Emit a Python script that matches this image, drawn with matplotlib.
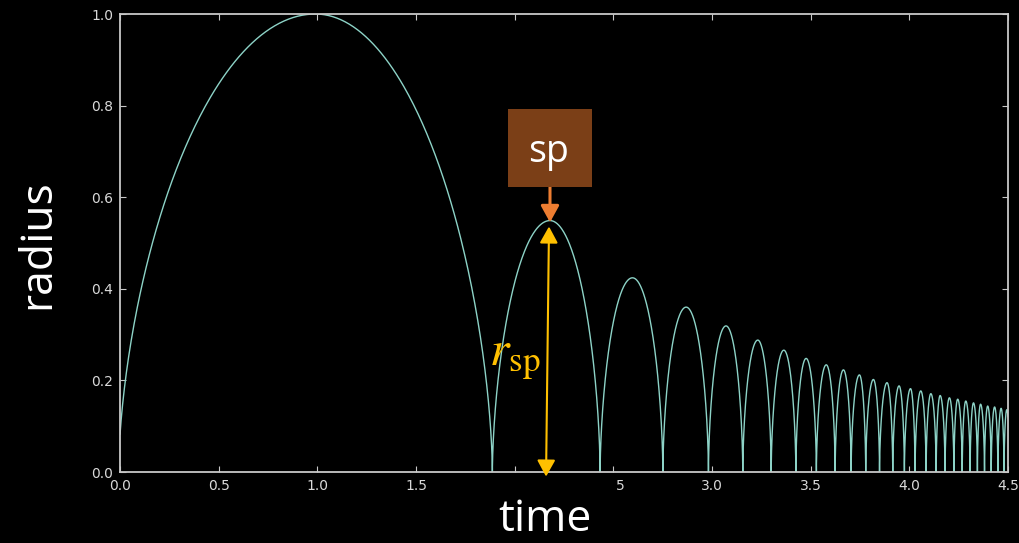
"""
Bubble radius vs time: big first expansion, then a train of decaying rebounds.
"""

import matplotlib

matplotlib.use("Agg")
import matplotlib.pyplot as plt
import numpy as np
from matplotlib.patches import Rectangle
from matplotlib.transforms import ScaledTranslation

# --- values ---
start_r = 0.081  # radius at t = 0
# times where the radius touches zero (collapses)
zero_t = [1.887, 2.433, 2.751, 2.982, 3.156, 3.300, 3.425, 3.529, 3.624, 3.705,
          3.779, 3.849, 3.916, 3.975, 4.029, 4.085, 4.136, 4.181, 4.226, 4.268,
          4.308, 4.345, 4.381, 4.415, 4.449, 4.480]
# time and height of each rebound maximum
peak_t = [0.99, 2.179, 2.597, 2.869, 3.071, 3.232, 3.364, 3.477, 3.579, 3.666,
          3.747, 3.818, 3.887, 3.948, 4.006, 4.058, 4.109, 4.156, 4.203, 4.245,
          4.286, 4.325, 4.361, 4.397, 4.432, 4.465, 4.494]
peak_r = [1.0, 0.549, 0.424, 0.360, 0.319, 0.288, 0.266, 0.248, 0.234, 0.223,
          0.212, 0.202, 0.195, 0.188, 0.182, 0.177, 0.171, 0.167, 0.162, 0.159,
          0.155, 0.151, 0.148, 0.144, 0.142, 0.139, 0.136]

x_ticks = [0.0, 0.5, 1.0, 1.5, 2.0, 2.5, 3.0, 3.5, 4.0, 4.5]
x_tick_labels = ["0.0", "0.5", "1.0", "1.5", "", "5", "3.0", "3.5", "4.0", "4.5"]
y_ticks = [0.0, 0.2, 0.4, 0.6, 0.8, 1.0]
y_tick_labels = ["0.0", "0.2", "0.4", "0.6", "0.8", "1.0"]

T_MAX = 4.5
ARC_EXP = 0.6  # shape of each rebound, cusp at the collapse points

LINE = "#8dd3c7"
SPINE = "#c8c8c8"
TICKTXT = "#d9d9d9"
ORANGE = "#ED7D31"
YELLOW = "#FFC000"
BROWN = "#7B3F17"

plt.rcParams["mathtext.fontset"] = "stix"

# build the rebound train, one arc between consecutive collapses
ts, rs = [], []
n = len(peak_t)
for i in range(n):
    p, h = peak_t[i], peak_r[i]
    if i == 0:
        w_left = p / np.sqrt(1 - start_r ** (1 / ARC_EXP))
    else:
        w_left = p - zero_t[i - 1]
    w_right = zero_t[i] - p if i < len(zero_t) else w_left
    u = np.sin(np.linspace(-np.pi / 2, np.pi / 2, 400))
    t = np.where(u < 0, p + u * w_left, p + u * w_right)
    r = h * np.clip(1 - u ** 2, 0, None) ** ARC_EXP
    keep = (t >= 0) & (t <= T_MAX)
    ts.append(t[keep])
    rs.append(r[keep])
ts = np.concatenate(ts)
rs = np.concatenate(rs)

W, H = 1020, 543
fig = plt.figure(figsize=(W / 100, H / 100), dpi=100, facecolor="black")
ax = fig.add_axes([120 / W, 71 / H, 888 / W, 458 / H], facecolor="black")

ax.plot(ts, rs, color=LINE, linewidth=1.0)

ax.set_xlim(0, T_MAX)
ax.set_ylim(0, 1.0)
ax.set_xticks(x_ticks)
ax.set_xticklabels(x_tick_labels)
ax.set_yticks(y_ticks)
ax.set_yticklabels(y_tick_labels)
ax.tick_params(direction="in", top=True, right=True, length=4, width=0.8,
               color=SPINE, labelcolor=TICKTXT, labelsize=10, pad=5)
for s in ax.spines.values():
    s.set_color(SPINE)
    s.set_linewidth(1.3)

# the "2." of the 2.5 label is hidden in the reference, only "5" shows
lbl = ax.xaxis.get_major_ticks()[5].label1
lbl.set_transform(lbl.get_transform() + ScaledTranslation(4.7 / 72, 0, fig.dpi_scale_trans))

# axis titles
fig.text(545 / W, 1 / H, "time", color="white", fontsize=32, family="Open Sans",
         ha="center", va="bottom")
fig.text(49 / W, (H - 244) / H, "radius", color="white", fontsize=32, family="Open Sans",
         rotation=90, rotation_mode="anchor", ha="center", va="baseline")

# "sp" box with arrow to the first rebound maximum
ax.add_patch(Rectangle((0.437, 0.6223), 0.0946, 0.1703, transform=ax.transAxes,
                       facecolor=BROWN, edgecolor="none", clip_on=False, zorder=4))
fig.text(549 / W, (H - 162) / H, "sp", color="white", fontsize=27, family="Open Sans",
         ha="center", va="baseline", zorder=5)
ax.annotate("", xy=(peak_t[1], peak_r[1] - 0.004), xycoords="data",
            xytext=(peak_t[1], 0.6223), textcoords=("data", "axes fraction"),
            arrowprops=dict(arrowstyle="-|>,head_length=10,head_width=5.5",
                            mutation_scale=1, color=ORANGE, lw=2.2,
                            shrinkA=0, shrinkB=0))

# r_sp double arrow
ax.annotate("", xy=(2.174, 0.536), xytext=(2.159, -0.010),
            arrowprops=dict(arrowstyle="<|-|>,head_length=10,head_width=5.5",
                            mutation_scale=1, color=YELLOW, lw=1.5,
                            shrinkA=0, shrinkB=0),
            annotation_clip=False)
ax.text(1.999, 0.249, r"$r_{\mathrm{sp}}$", color=YELLOW, fontsize=36,
        ha="center", va="center")

fig.savefig("out.png", dpi=100, facecolor="black")
